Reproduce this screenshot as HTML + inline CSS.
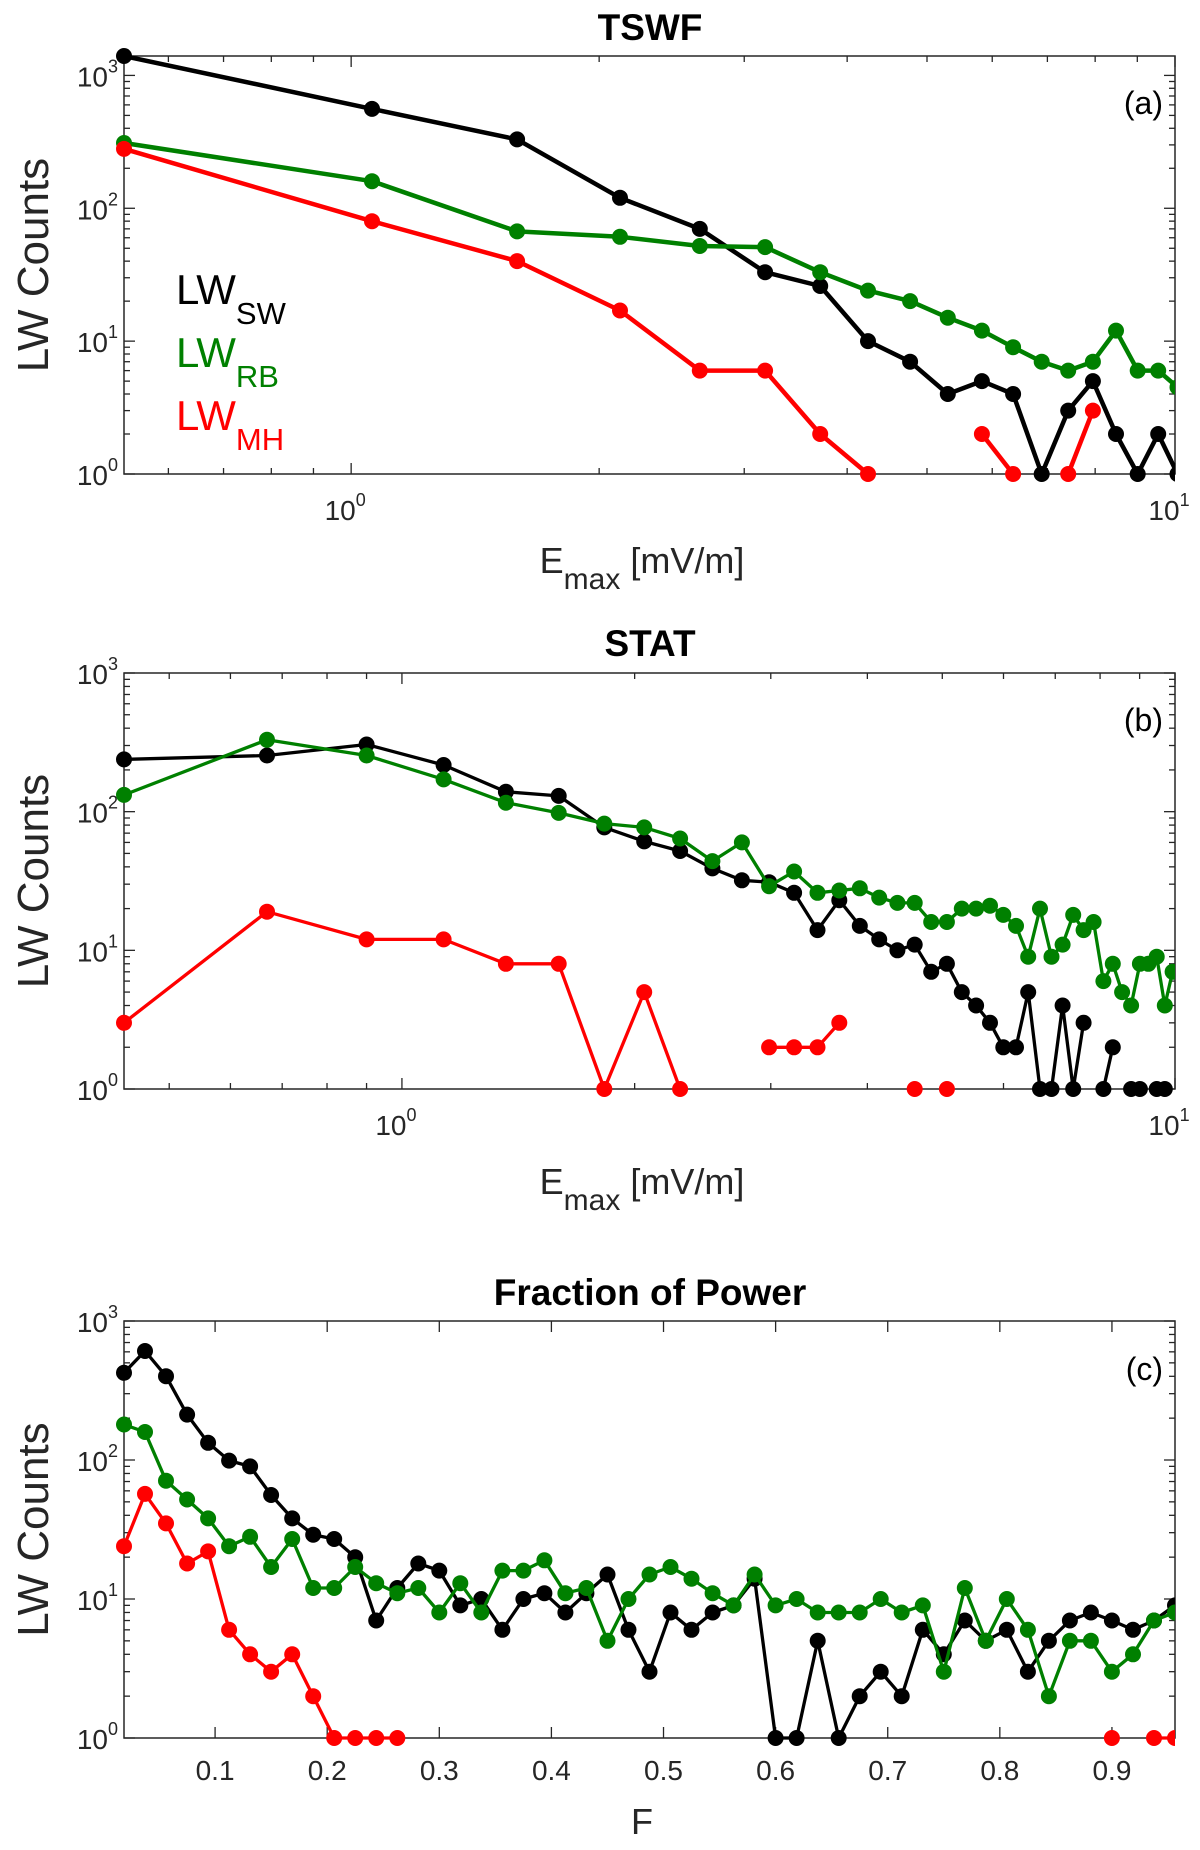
<!DOCTYPE html>
<html><head><meta charset="utf-8"><style>
html,body{margin:0;padding:0;background:#fff;}
svg{display:block;font-family:"Liberation Sans",Arial,sans-serif;}
</style></head><body>
<svg id="fig" width="1200" height="1850" viewBox="0 0 1200 1850" xmlns="http://www.w3.org/2000/svg"></svg>
<script>
// ---------- DATA ----------
// Panel (a) TSWF
const aX = [0.53,1.06,1.59,2.12,2.65,3.18,3.71,4.24,4.77,5.30,5.83,6.36,6.89,7.42,7.95,8.48,9.01,9.54,10.07];
const aSW = [1400,560,330,120,70,33,26,10,7,4,5,4,1,3,5,2,1,2,1];
const aRB = [310,160,67,61,52,51,33,24,20,15,12,9,7,6,7,12,6,6,4.5];
const aMH = [280,80,40,17,6,6,2,1,null,null,2,1,null,1,3,null,null,null,null];
// Panel (b) STAT
const bX = [0.437,0.669,0.900,1.132,1.363,1.595,1.827,2.058,2.290,2.521,2.753,2.985,3.216,3.448,3.679,3.911,4.143,4.374,4.606,4.837,5.069,5.300,5.530,5.764,5.996,6.227,6.459,6.690,6.922,7.154,7.385,7.617,7.848,8.080,8.310,8.543,8.775,9.006,9.238,9.470,9.700,9.930];
const bSW = [238,254,305,217,139,130,77,61,52,39,32,31,26,14,23,15,12,10,11,7,8,5,4,3,2,2,5,1,1,4,1,3,null,1,2,null,1,1,null,1,1,null];
const bRB = [132,330,254,171,116,98,82,77,64,44,60,29,37,26,27,28,24,22,22,16,16,20,20,21,18,15,9,20,9,11,18,14,16,6,8,5,4,8,8,9,4,7];
const bMH = [3,19,12,12,8,8,1,5,1,null,null,2,2,2,3,null,null,null,1,null,1,null,null,null,null,null,null,null,null,null,null,null,null,null,null,null,null,null,null,null,null,null];
// Panel (c) Fraction of power
const cX = [0.01875,0.0375,0.05625,0.075,0.09375,0.1125,0.13125,0.15,0.16875,0.1875,0.20625,0.225,0.24375,0.2625,0.28125,0.3,0.31875,0.3375,0.35625,0.375,0.39375,0.4125,0.43125,0.45,0.46875,0.4875,0.50625,0.525,0.54375,0.5625,0.58125,0.6,0.61875,0.6375,0.65625,0.675,0.69375,0.7125,0.73125,0.75,0.76875,0.7875,0.80625,0.825,0.84375,0.8625,0.88125,0.9,0.91875,0.9375,0.95625];
const cSW = [424,608,401,212,133,99,90,56,38,29,27,20,7,12,18,16,9,10,6,10,11,8,11,15,6,3,8,6,8,9,14,1,1,5,1,2,3,2,6,4,7,5,6,3,5,7,8,7,6,7,9];
const cRB = [180,159,71,52,38,24,28,17,27,12,12,17,13,11,12,8,13,8,16,16,19,11,12,5,10,15,17,14,11,9,15,9,10,8,8,8,10,8,9,3,12,5,10,6,2,5,5,3,4,7,8];
const cMH = [24,57,35,18,22,6,4,3,4,2,1,1,1,1,null,null,null,null,null,null,null,null,null,null,null,null,null,null,null,null,null,null,null,null,null,null,null,null,null,null,null,null,null,null,null,null,null,1,null,1,1];
const xTicksC = [0.1,0.2,0.3,0.4,0.5,0.6,0.7,0.8,0.9];
const xTickLabelsC = ["0.1","0.2","0.3","0.4","0.5","0.6","0.7","0.8","0.9"];
const yTickExps = [0,1,2,3];

// ---------- DRAWING ----------
const NS = "http://www.w3.org/2000/svg";
const svg = document.getElementById('fig');
function mk(tag, attrs, parent) {
  const e = document.createElementNS(NS, tag);
  for (const k in attrs) e.setAttribute(k, attrs[k]);
  (parent || svg).appendChild(e);
  return e;
}
const AX = '#262626';

function panel(cfg) {
  const {L, R, T, B, xlog, xmin, xmax, ymaxExp, id} = cfg;
  const fx = xlog ? v => L + (Math.log10(v) - Math.log10(xmin)) / (Math.log10(xmax) - Math.log10(xmin)) * (R - L)
                  : v => L + (v - xmin) / (xmax - xmin) * (R - L);
  const fy = v => B - Math.log10(v) / ymaxExp * (B - T);
  const g = mk('g', {});
  
  
  const clipId = 'clip-' + id;
  const cp = mk('clipPath', {id: clipId}, g);
  mk('rect', {x: L - 9, y: T - 9, width: R - L + 9, height: B - T + 18}, cp);
  const yt = mk('g', {stroke: AX, 'stroke-width': 1.3}, g);
  
  
  for (let d = 0; d < Math.ceil(ymaxExp) + 1; d++) {
    for (let m = 1; m <= 9; m++) {
      const v = m * Math.pow(10, d);
      if (Math.log10(v) > ymaxExp + 1e-9) continue;
      const y = fy(v); const len = m === 1 ? 11 : 6;
      mk('line', {x1: L, x2: L + len, y1: y, y2: y}, yt);
      mk('line', {x1: R, x2: R - len, y1: y, y2: y}, yt);
    }
  }
  yTickExps.forEach(e => {
    const v = Math.pow(10, e);
    const t = mk('text', {x: L - 6, y: fy(v) + 11, 'text-anchor': 'end', 'font-size': 28, fill: AX}, g);
    
    
    t.appendChild(document.createTextNode('10'));
    const s = mk('tspan', {dy: -14, 'font-size': 18}, t);
    s.textContent = String(e);
  });
  const xt = mk('g', {stroke: AX, 'stroke-width': 1.3}, g);
  
  
  if (xlog) {
    for (let d = -1; d <= 1; d++) for (let m = 1; m <= 9; m++) {
      const v = m * Math.pow(10, d);
      if (v < xmin - 1e-9 || v > xmax + 1e-9) continue;
      const x = fx(v); const len = m === 1 ? 11 : 6;
      mk('line', {x1: x, x2: x, y1: B, y2: B - len}, xt);
      mk('line', {x1: x, x2: x, y1: T, y2: T + len}, xt);
    }
    [0, 1].forEach(e => {
      const t = mk('text', {x: fx(Math.pow(10, e)) - 6, y: B + 46, 'text-anchor': 'middle', 'font-size': 28, fill: AX}, g);
      
      
      t.appendChild(document.createTextNode('10'));
      const s = mk('tspan', {dy: -14, 'font-size': 18}, t);
      s.textContent = String(e);
    });
  } else {
    xTicksC.forEach((v, i) => {
      const x = fx(v);
      mk('line', {x1: x, x2: x, y1: B, y2: B - 11}, xt);
      mk('line', {x1: x, x2: x, y1: T, y2: T + 11}, xt);
      const t = mk('text', {x: x, y: B + 42, 'text-anchor': 'middle', 'font-size': 28, fill: AX}, g);
      
      
      t.textContent = xTickLabelsC[i];
    });
  }
  const fr = mk('rect', {x: L, y: T, width: R - L, height: B - T, fill: 'none', stroke: AX, 'stroke-width': 1.5}, g);
  
  
  const dg = mk('g', {'clip-path': 'url(#' + clipId + ')'}, g);
  cfg.series.forEach(s => {
    const sg = mk('g', {}, dg);
    
    
    let seg = [];
    const flush = () => {
      if (seg.length > 1) {
        const p = mk('polyline', {points: seg.join(' '), fill: 'none', stroke: s.color, 'stroke-width': s.lw, 'stroke-linejoin': 'round'}, sg);
        
        
      }
      seg = [];
    };
    const pts = [];
    s.x.forEach((xv, i) => {
      const yv = s.y[i];
      if (yv === null || yv === undefined) { flush(); return; }
      const px = fx(xv), py = fy(yv);
      seg.push(px.toFixed(1) + ',' + py.toFixed(1));
      pts.push([px, py]);
    });
    flush();
    pts.forEach(p => {
      const c = mk('circle', {cx: p[0].toFixed(1), cy: p[1].toFixed(1), r: 8, fill: s.color}, sg);
      
      
    });
  });
  const pl = mk('text', {x: R - 12, y: cfg.letterY, 'text-anchor': 'end', 'font-size': 32, fill: '#000'}, g);
  
  
  pl.textContent = '(' + id + ')';
  const yl = mk('text', {x: 0, y: 0, 'text-anchor': 'middle', 'font-size': 44, fill: AX, transform: 'translate(48,' + ((T + B) / 2) + ') rotate(-90)'}, g);
  
  
  yl.textContent = 'LW Counts';
  const tt = mk('text', {x: 650, y: cfg.titleY, 'text-anchor': 'middle', 'font-size': 37, 'font-weight': 'bold', fill: '#000'}, g);
  
  
  tt.textContent = cfg.title;
  const xl = mk('text', {x: 642, y: cfg.xlabY, 'text-anchor': 'middle', 'font-size': 36, fill: AX}, g);
  
  
  if (xlog) {
    xl.appendChild(document.createTextNode('E'));
    const s1 = mk('tspan', {dy: 16, 'font-size': 30}, xl); s1.textContent = 'max';
    const s2 = mk('tspan', {dy: -16, 'font-size': 36}, xl); s2.textContent = ' [mV/m]';
  } else {
    xl.textContent = 'F';
  }
  return g;
}

panel({id: 'a', title: 'TSWF', L: 124, R: 1175, T: 56, B: 474, xlog: true, xmin: 0.53, xmax: 10, ymaxExp: Math.log10(1400),
  titleY: 40, xlabY: 573, letterY: 114,
  series: [
    {name: 'sw', x: aX, y: aSW, color: '#000000', lw: 4.5},
    {name: 'rb', x: aX, y: aRB, color: '#008000', lw: 4.5},
    {name: 'mh', x: aX, y: aMH, color: '#ff0000', lw: 4.5}
  ]});
panel({id: 'b', title: 'STAT', L: 124, R: 1175, T: 673, B: 1089, xlog: true, xmin: 0.437, xmax: 10, ymaxExp: 3,
  titleY: 656, xlabY: 1194, letterY: 731,
  series: [
    {name: 'sw', x: bX, y: bSW, color: '#000000', lw: 3.3},
    {name: 'rb', x: bX, y: bRB, color: '#008000', lw: 3.3},
    {name: 'mh', x: bX, y: bMH, color: '#ff0000', lw: 3.3}
  ]});
panel({id: 'c', title: 'Fraction of Power', L: 124, R: 1175, T: 1321, B: 1738, xlog: false, xmin: 0.01875, xmax: 0.95625, ymaxExp: 3,
  titleY: 1305, xlabY: 1834, letterY: 1380,
  series: [
    {name: 'sw', x: cX, y: cSW, color: '#000000', lw: 3.3},
    {name: 'rb', x: cX, y: cRB, color: '#008000', lw: 3.3},
    {name: 'mh', x: cX, y: cMH, color: '#ff0000', lw: 3.3}
  ]});

const legend = mk('g', {});


[['SW', '#000000', 304], ['RB', '#008000', 367], ['MH', '#ff0000', 430]].forEach(item => {
  const t = mk('text', {x: 176, y: item[2], 'font-size': 42, fill: item[1]}, legend);
  
  
  t.appendChild(document.createTextNode('LW'));
  const s = mk('tspan', {dy: 20, 'font-size': 31}, t);
  s.textContent = item[0];
});
</script>
</body></html>
